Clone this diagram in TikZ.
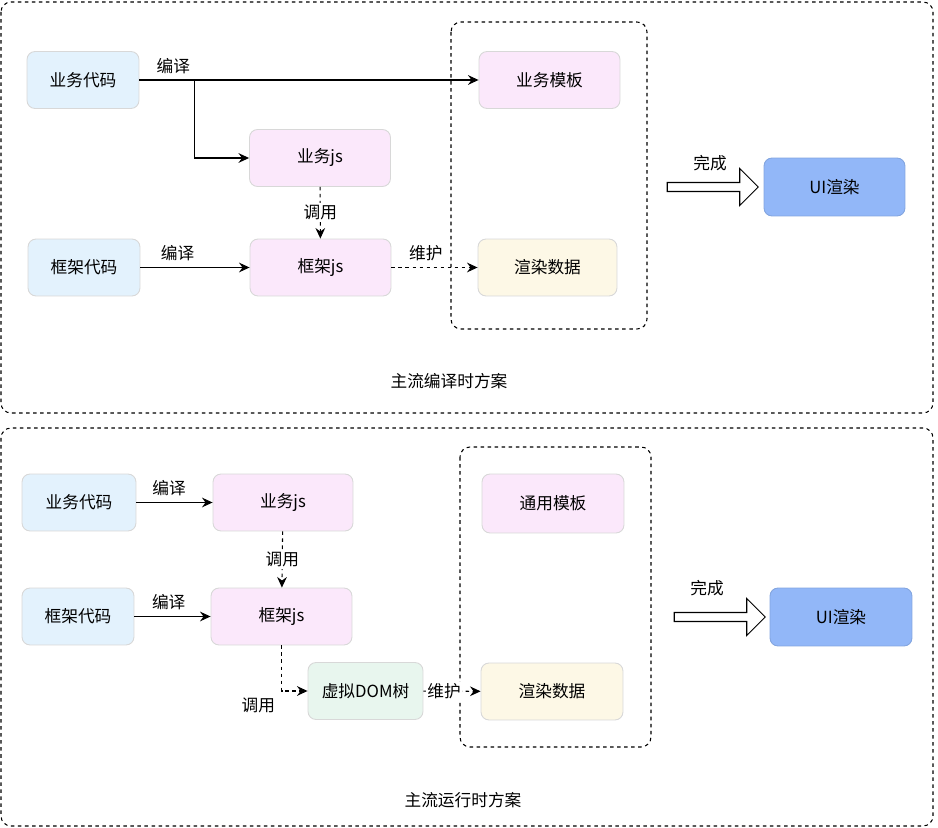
\documentclass[tikz,border=0pt]{standalone}
\usepackage{fontspec}
\setmainfont{Noto Sans CJK SC}
\usepackage{tikz}
\usetikzlibrary{shapes,shapes.arrows,arrows.meta,positioning}

\definecolor{codeblue}{HTML}{E3F2FD}
\definecolor{jspink}{HTML}{FBE8FB}
\definecolor{datacream}{HTML}{FDF8E6}
\definecolor{domgreen}{HTML}{E8F6EE}
\definecolor{uiblue}{HTML}{92B7F8}
\definecolor{boxline}{HTML}{D8D8D8}

\begin{document}
\begin{tikzpicture}[x=0.02cm, y=-0.02cm, font=\fontsize{9.5}{11}\selectfont]
    % Define styles
    \tikzstyle{box} = [rectangle, rounded corners=0.16cm, minimum width=2.82cm, minimum height=1.14cm, text centered, draw=boxline, line width=0.5pt]
    \tikzstyle{code} = [box, minimum width=2.24cm, fill=codeblue]
    \tikzstyle{js} = [box, fill=jspink]
    \tikzstyle{data} = [box, fill=datacream]
    \tikzstyle{vdom} = [box, minimum width=2.3cm, fill=domgreen]
    \tikzstyle{ui} = [box, minimum height=1.16cm, fill=uiblue, draw=uiblue!90!black]
    \tikzstyle{frame} = [draw, dash pattern=on 2pt off 2pt, rounded corners=0.2cm, line width=0.6pt]
    \tikzstyle{flow} = [-{Stealth[length=6pt,width=5.5pt,inset=2pt]}, line width=0.6pt]
    \tikzstyle{calls} = [flow, dash pattern=on 2pt off 2pt]
    \tikzstyle{done} = [single arrow, draw, fill=white, line width=0.6pt, inner sep=0.07cm, minimum height=1.82cm, minimum width=0.74cm, single arrow head extend=0.25cm]
    \tikzstyle{lbl} = [fill=white, inner sep=1pt]

    \useasboundingbox (0,0) rectangle (938,828);

    % Compile-time scheme
    \draw[frame] (1,2) rectangle (933,413);
    \draw[frame] (451,22) rectangle (647,329);
    \node[code] (topbiz) at (83,80) {业务代码};
    \node[js] (topbizjs) at (320,158) {业务js};
    \node[code] (topfw) at (84,267.5) {框架代码};
    \node[js] (topfwjs) at (320.5,267.5) {框架js};
    \node[js] (toptpl) at (549.5,80) {业务模板};
    \node[data, minimum width=2.78cm] (topdata) at (547.5,267.5) {渲染数据};
    \node[ui] (topui) at (834.5,187) {UI渲染};
    \node[done] (topdone) at (710.5,187) {};
    \node (topdonelbl) at (710,163) {完成};
    \node (toptitle) at (449,381) {主流编译时方案};

    \draw[flow] (topbiz) -- node[above, pos=0.1] {编译} (toptpl);
    \draw[flow] (topbiz.east) -- ++(55,0) |- (topbizjs.west);
    \draw[calls] (topbizjs) -- node[lbl] {调用} (topfwjs);
    \draw[flow] (topfw) -- node[above, pos=0.34] {编译} (topfwjs);
    \draw[calls] (topfwjs) -- node[above, pos=0.4] {维护} (topdata);

    % Run-time scheme
    \draw[frame] (1,428) rectangle (933,826);
    \draw[frame] (460,447) rectangle (651,747);
    \node[code, minimum width=2.28cm] (botbiz) at (79,502.5) {业务代码};
    \node[js, minimum width=2.8cm] (botbizjs) at (283,502.5) {业务js};
    \node[code] (botfw) at (78,616.5) {框架代码};
    \node[js] (botfwjs) at (281.5,616.5) {框架js};
    \node[vdom] (botdom) at (365.5,691) {虚拟DOM树};
    \node[js, minimum width=2.84cm, minimum height=1.18cm] (bottpl) at (553,503.5) {通用模板};
    \node[data, minimum width=2.84cm] (botdata) at (552,691.5) {渲染数据};
    \node[ui, minimum width=2.84cm] (botui) at (841,617) {UI渲染};
    \node[done] (botdone) at (717.5,617) {};
    \node (botdonelbl) at (707,588) {完成};
    \node (bottitle) at (463,800) {主流运行时方案};

    \draw[flow] (botbiz) -- node[above, pos=0.43] {编译} (botbizjs);
    \draw[calls] (botbizjs) -- node[lbl] {调用} (botfwjs);
    \draw[flow] (botfw) -- node[above, pos=0.45] {编译} (botfwjs);
    \draw[calls] (botfwjs.south) |- node[below left, pos=0.5] {调用} (botdom.west);
    \draw[calls] (botdom) -- node[lbl, pos=0.36] {维护} (botdata);
\end{tikzpicture}
\end{document}
